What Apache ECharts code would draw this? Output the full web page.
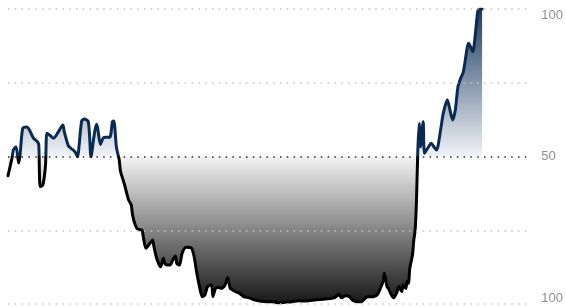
<!DOCTYPE html>
<html>
<head>
<meta charset="utf-8">
<script src="https://cdn.jsdelivr.net/npm/echarts@6/dist/echarts.min.js"></script>
<style>
  html, body { margin: 0; padding: 0; background: #fff; }
  #chart { width: 566px; height: 307px; }
</style>
</head>
<body>
<div id="chart"></div>
<script>
  // minutes since open
  var minutes = [0, 3, 4, 6, 8, 9, 11, 14, 16, 19, 22, 23, 24, 26, 28, 29, 31, 34, 37, 41,
    42, 45, 47, 50, 52, 53, 55, 57, 60, 62, 64, 66, 67, 69, 71, 73, 76, 78, 79, 81,
    83, 84, 86, 87, 90, 92, 93, 95, 97, 100, 101, 103, 106, 108, 109, 111, 113, 114, 116, 117,
    119, 121, 123, 125, 126, 128, 130, 133, 137, 139, 141, 143, 145, 147, 149, 152, 153, 155, 157, 159,
    162, 164, 166, 168, 170, 173, 176, 180, 184, 188, 193, 197, 202, 207, 212, 217, 222, 230, 237, 242,
    245, 247, 249, 252, 255, 257, 261, 264, 267, 269, 273, 276, 278, 280, 281, 283, 284, 286, 288, 290,
    292, 294, 295, 297, 298, 299, 300, 302, 303, 304, 305, 306, 307, 308, 310, 311, 314, 316, 318, 320,
    323, 325, 328, 330, 332, 334, 336, 338, 340, 343, 344, 347, 349, 351, 353, 354];
  var values = [43.5, 49.5, 52.2, 53.3, 47.8, 50.5, 59.5, 60, 59, 56.2, 55, 53.9, 39.8, 40.3, 47, 57.9, 57.3, 56.2, 57.9, 60.7,
    58.4, 53.7, 52.8, 51.6, 49.9, 53.3, 62, 62.7, 61.8, 49.9, 56.2, 60.9, 59.5, 54.1, 56.2, 56.5, 56.5, 61.8, 62, 53,
    49, 45, 42, 40.5, 35.3, 33.6, 30.2, 26.8, 25.3, 25.1, 22.8, 18.9, 20.6, 21.7, 19.4, 15.5, 13.2, 12.6, 15.5, 13.8,
    13.2, 13.2, 14.9, 16.3, 13.8, 13.2, 17.2, 19.2, 18.9, 16, 10.4, 5.9, 2.5, 3, 5.9, 6.4, 2.5, 5.3, 5.6, 5.3,
    6.4, 8.9, 5.3, 4.7, 4.2, 3.6, 2.5, 2.1, 1.4, 1, 0.8, 0.8, 0.4, 0.6, 0.8, 1.1, 1, 1.4, 1.7, 1.9,
    2.5, 3.3, 2.1, 2.8, 2.5, 1.4, 0.8, 0.8, 2.1, 2.5, 2.5, 3.3, 5.3, 7.6, 10.4, 5.9, 5.3, 3.3, 2.1, 3.6,
    5.9, 4.2, 6.4, 5.3, 7.6, 7, 12.1, 16.6, 21.7, 25, 35, 52, 61.2, 53.3, 61.8, 51.1, 53.3, 54.5, 53.3, 52.2,
    59, 64.6, 69.2, 65.8, 62.4, 65.8, 73.7, 76.5, 78.7, 87.2, 88.4, 85.5, 91.7, 99.7, 100, 100];
  var yTicks = [0, 25, 50, 75, 100];
  var yTickLabels = ['100', '', '50', '', '100'];
  var sessionLength = 390;

  var chartDom = document.getElementById('chart');
  var myChart = echarts.init(chartDom, null, {renderer: 'canvas'});

  // pixel span of the plot, used for the split colour at 50
  var plotTop = 9, plotBottom = 304;

  var option = {
    animation: false,
    grid: {
      left: 8,
      right: 34,
      top: plotTop,
      bottom: 307 - plotBottom
    },
    xAxis: {
      type: 'value',
      min: 0,
      max: sessionLength,
      show: false
    },
    yAxis: {
      type: 'value',
      position: 'right',
      min: yTicks[0],
      max: yTicks[yTicks.length - 1],
      interval: 25,
      zlevel: 1,
      axisLine: {show: false},
      axisTick: {show: false},
      axisLabel: {
        margin: 11,
        color: '#8e8e93',
        fontSize: 13,
        fontFamily: 'Liberation Sans, Arial, sans-serif',
        formatter: function (v) {
          var i = yTicks.indexOf(v);
          var txt = i >= 0 ? yTickLabels[i] : '';
          if (!txt) return '';
          if (v === yTicks[yTicks.length - 1]) return '{top|' + txt + '}';
          if (v === yTicks[0]) return '{bot|' + txt + '}';
          return txt;
        },
        rich: {
          top: {color: '#8e8e93', fontSize: 13, padding: [12, 0, 0, 0]},
          bot: {color: '#8e8e93', fontSize: 13, padding: [0, 0, 12, 0]}
        }
      },
      splitLine: {
        show: true,
        lineStyle: {
          color: ['#c4c4c8', '#c4c4c8', '#2a2a2a', '#c4c4c8', '#c4c4c8'],
          width: 1.5,
          type: [1.5, 5.3]
        }
      }
    },
    series: [
      {
        type: 'line',
        data: minutes.map(function (m, i) { return [m, values[i]]; }),
        symbol: 'none',
        smooth: 0.25,
        lineStyle: {
          width: 3,
          cap: 'round',
          join: 'round',
          color: new echarts.graphic.LinearGradient(0, plotTop, 0, plotBottom, [
            {offset: 0, color: '#0b2a52'},
            {offset: 0.5, color: '#0b2a52'},
            {offset: 0.5, color: '#000000'},
            {offset: 1, color: '#000000'}
          ], true)
        },
        areaStyle: {
          origin: 50,
          opacity: 1,
          color: new echarts.graphic.LinearGradient(0, plotTop, 0, plotBottom, [
            {offset: 0, color: '#1d3a62'},
            {offset: 0.5, color: '#f1f3f7'},
            {offset: 0.5, color: '#f3f3f3'},
            {offset: 1, color: '#161616'}
          ], true)
        }
      }
    ]
  };

  option && myChart.setOption(option);
</script>
</body>
</html>
